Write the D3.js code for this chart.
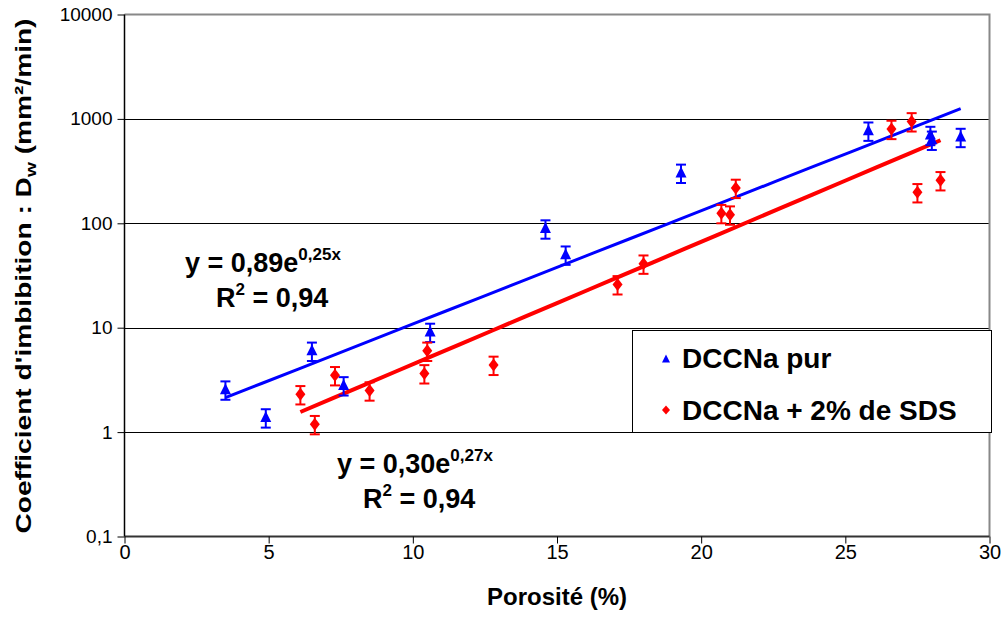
<!DOCTYPE html>
<html>
<head>
<meta charset="utf-8">
<script src="https://cdn.jsdelivr.net/npm/d3@7"></script>
<style>
  html, body { margin: 0; padding: 0; background: #fff; }
  svg { display: block; font-family: "Liberation Sans", Arial, sans-serif; }
</style>
</head>
<body>
<svg id="chart" width="1005" height="641"></svg>
<script>
// ---- data ----
const seriesNames = ["DCCNa pur", "DCCNa + 2% de SDS"];
const blueX = [3.5, 4.9, 6.5, 7.6, 10.6, 14.6, 15.3, 19.3, 25.8, 27.95, 28.0, 29.0];
const blueY = [2.55, 1.38, 6.0, 2.8, 9.1, 89, 50, 304, 770, 700, 630, 670];
const redX = [6.1, 6.6, 7.3, 8.5, 10.4, 10.5, 12.8, 17.1, 18.0, 20.7, 21.0, 21.2, 26.6, 27.3, 27.5, 28.3];
const redY = [2.3, 1.19, 3.5, 2.5, 3.65, 6.0, 4.4, 26, 41, 125, 121, 218, 800, 946, 198, 258];
const errorPct = 0.2;
const blueFit = [0.89, 0.25, 3.5, 29.0];   // a, b, xmin, xmax  (y = a e^(b x))
const redFit = [0.30, 0.27, 6.1, 28.3];
const xTicks = [0, 5, 10, 15, 20, 25, 30];
const yTicks = [0.1, 1, 10, 100, 1000, 10000];
const yTickLabels = ["0,1", "1", "10", "100", "1000", "10000"];
const blueEq = ["y = 0,89e", "0,25x", "R", "2", " = 0,94"];
const redEq = ["y = 0,30e", "0,27x", "R", "2", " = 0,94"];

// ---- layout ----
const svg = d3.select("#chart");
const L = 124.5, R = 989.5, T = 14.5, B = 536.5;
const x = d3.scaleLinear().domain([0, 30]).range([L, R]);
const y = d3.scaleLog().domain([0.1, 10000]).range([B, T]);
const BLUE = "#0000ff", RED = "#ff0000";

// gridlines
svg.append("g").selectAll("line").data([1, 10, 100, 1000]).join("line")
  .attr("x1", L).attr("x2", R).attr("y1", d => Math.round(y(d)) + 0.5).attr("y2", d => Math.round(y(d)) + 0.5)
  .attr("stroke", "#000").attr("stroke-width", 1);

// plot border top/right (gray)
svg.append("path").attr("d", `M${L},${T} H${R} V${B}`).attr("fill", "none")
  .attr("stroke", "#888").attr("stroke-width", 2);

// axes
const xAxis = d3.axisBottom(x).tickValues(xTicks).tickSize(7).tickFormat(d3.format("d"));
const gx = svg.append("g").attr("transform", `translate(0,${B})`).call(xAxis);
gx.select(".domain").attr("stroke", "#333").attr("stroke-width", 2).attr("d", `M${L},0H${R}`);
gx.selectAll(".tick line").attr("stroke", "#000");
gx.selectAll(".tick text").attr("font-size", 20).attr("fill", "#000").attr("y", 8).attr("dy", "0.71em")
  .attr("font-family", "Liberation Sans, Arial, sans-serif");

const yAxis = d3.axisLeft(y).tickValues(yTicks).tickSize(7).tickFormat((d, i) => yTickLabels[i]);
const gy = svg.append("g").attr("transform", `translate(${L},0)`).call(yAxis);
gy.select(".domain").attr("stroke", "#000").attr("stroke-width", 1.5).attr("d", `M0,${T}V${B}`);
gy.selectAll(".tick line").attr("stroke", "#000");
gy.selectAll(".tick text").attr("font-size", 19).attr("fill", "#000").attr("x", -12)
  .attr("font-family", "Liberation Sans, Arial, sans-serif");

// trendlines
function fitLine(f) {
  const [a, b, x0, x1] = f;
  const pts = d3.range(0, 21).map(i => x0 + (x1 - x0) * i / 20);
  return d3.line().x(d => x(d)).y(d => y(a * Math.exp(b * d)))(pts);
}
svg.append("path").attr("d", fitLine(blueFit)).attr("fill", "none").attr("stroke", BLUE).attr("stroke-width", 3);
svg.append("path").attr("d", fitLine(redFit)).attr("fill", "none").attr("stroke", RED).attr("stroke-width", 4);

// error bars + markers
function drawSeries(xs, ys, color, shape) {
  const data = xs.map((d, i) => ({ x: d, y: ys[i] }));
  const g = svg.append("g");
  const eb = g.selectAll("g.eb").data(data).join("g").attr("class", "eb");
  eb.append("line").attr("x1", d => x(d.x)).attr("x2", d => x(d.x))
    .attr("y1", d => y(d.y * (1 + errorPct))).attr("y2", d => y(d.y * (1 - errorPct)))
    .attr("stroke", color).attr("stroke-width", 2);
  [1 + errorPct, 1 - errorPct].forEach(f => {
    eb.append("line").attr("x1", d => x(d.x) - 5).attr("x2", d => x(d.x) + 5)
      .attr("y1", d => y(d.y * f)).attr("y2", d => y(d.y * f))
      .attr("stroke", color).attr("stroke-width", 2);
  });
  g.selectAll("path.m").data(data).join("path").attr("class", "m")
    .attr("d", shape)
    .attr("transform", d => `translate(${x(d.x)},${y(d.y)})`)
    .attr("fill", color);
}
const triPath = "M0,-6.5 L5.5,4.5 L-5.5,4.5 Z";
const diaPath = "M0,-6.5 L5,0 L0,6.5 L-5,0 Z";
drawSeries(blueX, blueY, BLUE, triPath);
drawSeries(redX, redY, RED, diaPath);

// equations
function eq(lines, x0, y0, x1, y1) {
  const t = svg.append("text").attr("font-size", 27).attr("font-weight", "bold").attr("fill", "#000");
  t.append("tspan").attr("x", x0).attr("y", y0).text(lines[0]);
  t.append("tspan").attr("font-size", 17).attr("dy", -12).text(lines[1]);
  const t2 = svg.append("text").attr("font-size", 27).attr("font-weight", "bold").attr("fill", "#000");
  t2.append("tspan").attr("x", x1).attr("y", y1).text(lines[2]);
  t2.append("tspan").attr("font-size", 17).attr("dy", -12).text(lines[3]);
  t2.append("tspan").attr("dy", 12).text(lines[4]);
}
eq(blueEq, 185, 272, 216, 307);
eq(redEq, 337, 473, 363, 508);

// legend
const lg = svg.append("g");
lg.append("rect").attr("x", 632.5).attr("y", 330.5).attr("width", 359).attr("height", 102)
  .attr("fill", "#fff").attr("stroke", "#000").attr("stroke-width", 1);
const legItems = [{ name: seriesNames[0], color: BLUE, shape: "M0,-4.5 L4,3.5 L-4,3.5 Z", yy: 359, ty: 368 },
                  { name: seriesNames[1], color: RED, shape: "M0,-4.5 L4,0 L0,4.5 L-4,0 Z", yy: 410, ty: 420 }];
legItems.forEach(it => {
  lg.append("path").attr("d", it.shape).attr("transform", `translate(666,${it.yy})`).attr("fill", it.color);
  lg.append("text").attr("x", 682).attr("y", it.ty).attr("font-size", 28).attr("font-weight", "bold")
    .attr("fill", "#000").text(it.name);
});

// axis titles
svg.append("text").attr("x", 557).attr("y", 605).attr("text-anchor", "middle")
  .attr("font-size", 24).attr("font-weight", "bold").attr("fill", "#000").text("Porosité (%)");
const yt = svg.append("text").attr("transform", "translate(31,276) rotate(-90)").attr("text-anchor", "middle")
  .attr("font-size", 22).attr("font-weight", "bold").attr("fill", "#000")
  .attr("textLength", 515).attr("lengthAdjust", "spacingAndGlyphs");
yt.append("tspan").text("Coefficient d'imbibition : D");
yt.append("tspan").attr("font-size", 15).attr("dy", 5).text("w");
yt.append("tspan").attr("dy", -5).text(" (mm²/min)");
</script>
</body>
</html>
